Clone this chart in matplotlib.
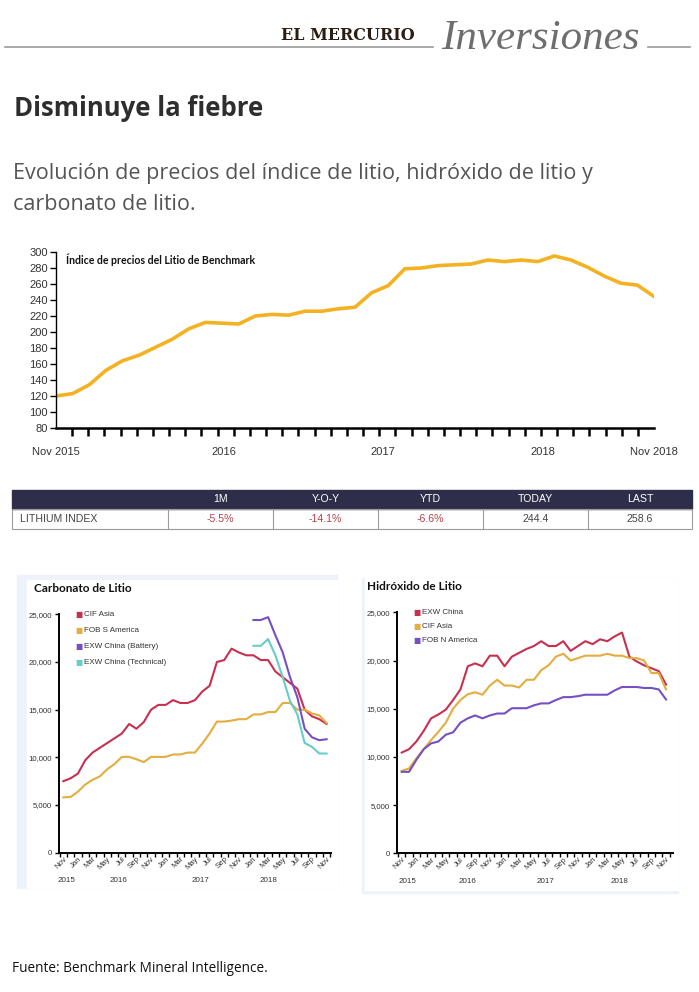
"""
plot.py — Lithium price page (El Mercurio Inversiones)
Top: Benchmark lithium index, table, bottom: carbonate / hydroxide prices.
Output: out.png
"""

import numpy as np
import matplotlib
matplotlib.use("Agg")
import matplotlib.pyplot as plt
from matplotlib.patches import Rectangle

W, H = 699, 992

# ---- data ----
months = np.arange(37)  # Nov 2015 .. Nov 2018
lithium_index = [120, 123, 134, 152, 164, 171, 181, 191, 204, 212, 211, 210, 220, 222,
                 221, 226, 226, 229, 231, 249, 258, 279, 280, 283, 284, 285, 290, 288,
                 290, 288, 295, 290, 281, 270, 261, 258.6, 244.4]
top_xlabels = ["Nov 2015", "2016", "2017", "2018", "Nov 2018"]
top_xlabel_pos = [0, 10.1, 19.7, 29.3, 36]

table_cols = ["", "1M", "Y-O-Y", "YTD", "TODAY", "LAST"]
table_row = ["LITHIUM INDEX", "-5.5%", "-14.1%", "-6.6%", "244.4", "258.6"]

carb_cif_asia = [7500, 7800, 8300, 9700, 10500, 11000, 11500, 12000, 12500, 13500, 13000,
                 13700, 15000, 15500, 15500, 16000, 15700, 15700, 16000, 16900, 17500, 20000,
                 20200, 21400, 21000, 20700, 20700, 20200, 20200, 19000, 18400, 17800, 17200,
                 15000, 14300, 14000, 13500]
carb_fob_s_america = [5800, 5850, 6400, 7150, 7650, 8000, 8750, 9300, 10050, 10050, 9800,
                      9500, 10050, 10050, 10050, 10300, 10300, 10500, 10500, 11450, 12500,
                      13750, 13750, 13850, 14000, 14000, 14500, 14500, 14750, 14750, 15700,
                      15700, 15000, 15000, 14600, 14400, 13600]
carb_exw_battery = [np.nan] * 26 + [24400, 24400, 24700, 22800, 21000, 18400, 16300, 13000,
                                    12100, 11800, 11900]
carb_exw_technical = [np.nan] * 26 + [21700, 21700, 22400, 20700, 18400, 15900, 14500,
                                      11500, 11100, 10400, 10400]

hyd_exw_china = [10450, 10800, 11600, 12700, 14000, 14400, 14900, 15900, 17000, 19400, 19700,
                 19400, 20500, 20500, 19400, 20400, 20800, 21200, 21500, 22000, 21500, 21500,
                 22000, 21000, 21500, 22000, 21700, 22200, 22000, 22500, 22900, 20400, 19900,
                 19500, 19200, 18900, 17500]
hyd_cif_asia = [8550, 8800, 9850, 10800, 11750, 12600, 13550, 15000, 15900, 16500, 16700,
                16450, 17400, 18000, 17400, 17400, 17200, 18000, 18000, 19000, 19500, 20400,
                20700, 20000, 20250, 20500, 20500, 20500, 20700, 20500, 20500, 20250, 20250,
                20000, 18700, 18700, 17000]
hyd_fob_n_america = [8450, 8450, 9700, 10800, 11400, 11600, 12300, 12550, 13550, 14000, 14300,
                     14000, 14300, 14500, 14500, 15050, 15050, 15050, 15350, 15550, 15550,
                     15900, 16200, 16200, 16300, 16450, 16450, 16450, 16450, 16900, 17250,
                     17250, 17250, 17150, 17150, 17000, 15950]

carb_names = ["CIF Asia", "FOB S America", "EXW China (Battery)", "EXW China (Technical)"]
hyd_names = ["EXW China", "CIF Asia", "FOB N America"]
month_labels = ["Nov", "Jan", "Mar", "May", "Jul", "Sep"] * 3 + ["Nov"]
year_labels = ["2015", "2016", "2017", "2018"]

RED, YELLOW, PURPLE, TEAL = "#c8304f", "#e3ad3f", "#7550c2", "#66cdc8"
GOLD = "#f4b223"
SANS = ["Liberation Sans", "DejaVu Sans"]


def px_axes(fig, x0, y0, x1, y1, **kw):
    """Axes from pixel box (top-left origin)."""
    return fig.add_axes([x0 / W, 1 - y1 / H, (x1 - x0) / W, (y1 - y0) / H], **kw)


def ftext(fig, x, y, s, **kw):
    fig.text(x / W, 1 - y / H, s, **kw)


def draw_header(fig):
    ftext(fig, 348, 36, "EL MERCURIO", family="DejaVu Serif", weight="bold", size=11.5,
          color="#2a1d14", ha="center", va="center")
    ftext(fig, 540, 39, "Inversiones", family="Liberation Serif", style="italic", size=31,
          color="#6e6e6e", ha="center", va="center")
    ax = px_axes(fig, 0, 0, W, H)
    ax.set_xlim(0, W); ax.set_ylim(H, 0); ax.axis("off")
    ax.plot([5, 433], [47, 47], color="#9a9a9a", lw=1.2)
    ax.plot([648, 690], [47, 47], color="#9a9a9a", lw=1.2)
    # light panels behind the two small charts
    ax.add_patch(Rectangle((17, 575), 320, 313, color="#eef2fa", zorder=0))
    ax.add_patch(Rectangle((27, 580), 310, 308, color="white", zorder=0))
    ax.add_patch(Rectangle((362, 578), 316, 315, color="#eef2fa", zorder=0))
    ax.add_patch(Rectangle((365, 578), 313, 312, color="white", zorder=0))

    ftext(fig, 14, 108, "Disminuye la fiebre", family="Open Sans", weight="bold", size=18.5,
          color="#2e2e2e", va="center")
    ftext(fig, 13, 173, "Evolución de precios del índice de litio, hidróxido de litio y",
          family="Open Sans", size=15.5, color="#555555", va="center")
    ftext(fig, 13, 204, "carbonato de litio.", family="Open Sans", size=15.5,
          color="#555555", va="center")
    ftext(fig, 12, 969, "Fuente: Benchmark Mineral Intelligence.", family="Open Sans",
          size=9.8, color="#111111", va="center")


def draw_index(fig):
    ax = px_axes(fig, 56, 252, 654, 428)
    ax.plot(months, lithium_index, color=GOLD, lw=2.6, solid_joinstyle="round")
    ax.set_xlim(0, 36); ax.set_ylim(80, 300)
    ax.set_yticks(np.arange(80, 301, 20))
    for s in ["top", "right"]:
        ax.spines[s].set_visible(False)
    ax.spines["bottom"].set_linewidth(1.8)
    ax.spines["left"].set_linewidth(1.0)
    ax.tick_params(axis="y", length=4, width=1, labelsize=8, labelcolor="#333333", pad=2)
    ax.set_xticks(np.linspace(0, 36, 38), minor=True)
    ax.tick_params(axis="x", which="minor", length=6, width=1.8)
    ax.set_xticks(top_xlabel_pos, top_xlabels)
    ax.tick_params(axis="x", which="major", length=0, labelsize=8, labelcolor="#333333",
                   pad=14)
    for lab in ax.get_xticklabels() + ax.get_yticklabels():
        lab.set_family(SANS)
    ax.text(0.017, 0.955, "Índice de precios del Litio de Benchmark", transform=ax.transAxes,
            family="Lato", weight="bold", size=7.6, color="#111111", va="center")


def draw_table(fig):
    ax = px_axes(fig, 0, 0, W, H)
    ax.set_xlim(0, W); ax.set_ylim(H, 0); ax.axis("off")
    edges = [12, 168, 273, 378, 483, 588, 692]
    top, mid, bot = 490, 509, 529
    ax.add_patch(Rectangle((edges[0], top), edges[-1] - edges[0], mid - top,
                           color="#2e2e4a", zorder=1))
    ax.add_patch(Rectangle((edges[0], mid), edges[-1] - edges[0], bot - mid, fill=False,
                           ec="#9c9c9c", lw=0.8, zorder=2))
    for x in edges[1:-1]:
        ax.plot([x, x], [mid, bot], color="#9c9c9c", lw=0.8, zorder=2)
    for i in range(1, 6):
        cx = (edges[i] + edges[i + 1]) / 2
        ax.text(cx, (top + mid) / 2, table_cols[i], color="white", size=7.6, family=SANS,
                ha="center", va="center", zorder=3)
        col = "#b8404a" if i <= 3 else "#444444"
        ax.text(cx, (mid + bot) / 2, table_row[i], color=col, size=7.6, family=SANS,
                ha="center", va="center", zorder=3)
    ax.text(20, (mid + bot) / 2, table_row[0], color="#444444", size=7.6, family=SANS,
            ha="left", va="center", zorder=3)


def small_chart(fig, box, xlim, series, colors, names, title, title_xy, leg_x, leg_y,
                year_pos):
    ax = px_axes(fig, *box)
    for vals, col in zip(series, colors):
        ax.plot(months, vals, color=col, lw=1.5)
    ax.set_xlim(*xlim); ax.set_ylim(0, 25000)
    for s in ["top", "right"]:
        ax.spines[s].set_visible(False)
    ax.spines["left"].set_linewidth(1.4)
    ax.spines["bottom"].set_linewidth(1.4)
    ax.set_yticks([0, 5000, 10000, 15000, 20000, 25000],
                  ["0", "5,000", "10,000", "15,000", "20,000", "25,000"])
    ax.tick_params(axis="y", length=3, width=1, labelsize=5.6, labelcolor="#333333", pad=2)
    ax.set_xticks(np.arange(-0.5, 37, 1), minor=True)
    ax.tick_params(axis="x", which="minor", length=3, width=1)
    ax.set_xticks(np.arange(0, 37, 2), month_labels)
    ax.tick_params(axis="x", which="major", length=0, labelsize=5.6, labelcolor="#333333",
                   pad=2)
    for lab in ax.get_xticklabels():
        lab.set_rotation(45); lab.set_ha("right"); lab.set_rotation_mode("anchor")
    for lab in ax.get_xticklabels() + ax.get_yticklabels():
        lab.set_family(SANS)
    tr = ax.get_xaxis_transform()
    for pos, lab in zip(year_pos, year_labels):
        ax.text(pos, -0.118, lab, transform=tr, size=5.8, family=SANS, color="#333333",
                ha="center", va="center")
    ftext(fig, title_xy[0], title_xy[1], title, family="Lato", weight="bold", size=8.5,
          color="#111111", va="center")
    for y, col, name in zip(leg_y, colors, names):
        ftext(fig, leg_x, y, "\u25A0", color=col, size=5.5, va="center", family="DejaVu Sans")
        ftext(fig, leg_x + 9, y, name, color="#333333", size=5.8, va="center", family=SANS)
    return ax


def main():
    fig = plt.figure(figsize=(W / 100, H / 100), dpi=100)
    fig.patch.set_facecolor("white")
    draw_header(fig)
    draw_index(fig)
    draw_table(fig)

    small_chart(fig, (59.3, 614.3, 331, 852.7), (-0.55, 36.6),
                [carb_cif_asia, carb_fob_s_america, carb_exw_battery, carb_exw_technical],
                [RED, YELLOW, PURPLE, TEAL], carb_names,
                "Carbonato de Litio", (34, 588), 75, [614, 631, 646, 662],
                [0.5, 7.5, 18.7, 28.1])
    small_chart(fig, (397.3, 612.3, 672.7, 853.3), (-0.6, 36.9),
                [hyd_exw_china, hyd_cif_asia, hyd_fob_n_america],
                [RED, YELLOW, PURPLE], hyd_names,
                "Hidróxido de Litio", (367, 587), 413, [612, 627, 641],
                [0.8, 8.9, 19.6, 29.6])

    fig.savefig("out.png", dpi=100)
    plt.close()


if __name__ == "__main__":
    main()
